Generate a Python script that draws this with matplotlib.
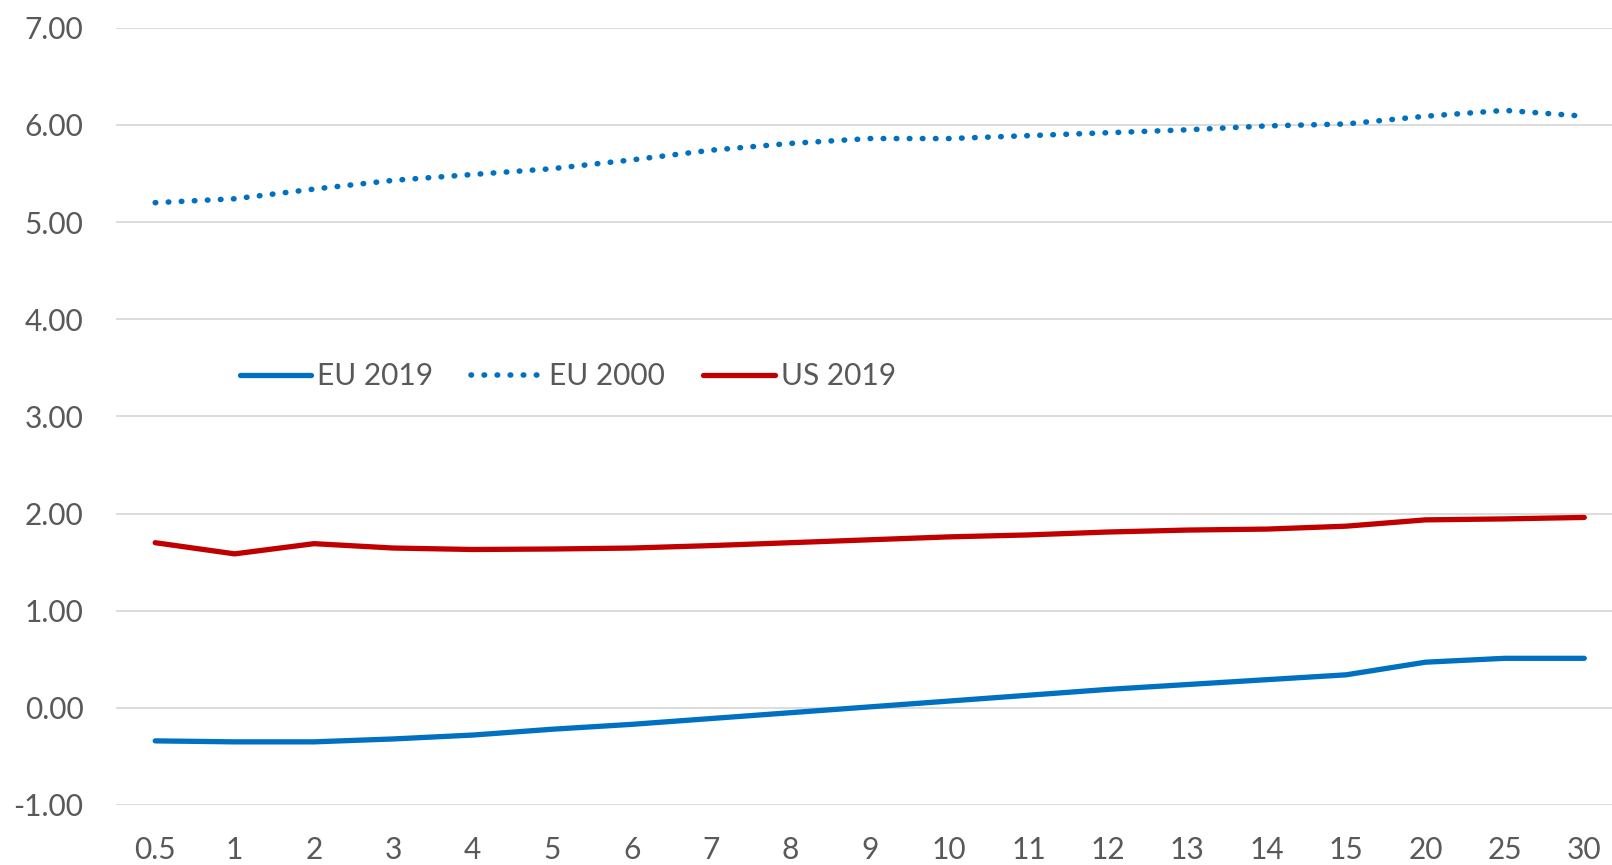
import matplotlib
matplotlib.use("Agg")
import matplotlib.pyplot as plt

maturities = ["0.5", "1", "2", "3", "4", "5", "6", "7", "8", "9", "10",
              "11", "12", "13", "14", "15", "20", "25", "30"]
eu_2019 = [-0.34, -0.35, -0.35, -0.32, -0.28, -0.22, -0.17, -0.11, -0.05, 0.01,
           0.07, 0.13, 0.19, 0.24, 0.29, 0.34, 0.47, 0.51, 0.51]
eu_2000 = [5.20, 5.24, 5.34, 5.43, 5.49, 5.55, 5.64, 5.74, 5.81, 5.86,
           5.86, 5.89, 5.92, 5.95, 5.99, 6.01, 6.09, 6.15, 6.09]
us_2019 = [1.70, 1.585, 1.69, 1.645, 1.63, 1.635, 1.645, 1.67, 1.70, 1.73,
           1.76, 1.78, 1.81, 1.83, 1.84, 1.87, 1.935, 1.945, 1.96]
y_ticks = [-1, 0, 1, 2, 3, 4, 5, 6, 7]

plt.rcParams['font.family'] = ['Lato', 'DejaVu Sans']
W, H = 1612, 865
fig = plt.figure(figsize=(W / 100, H / 100), dpi=100)
left, right = 115.5, 1624.0
top, bottom = 27.8, 805.0
ax = fig.add_axes([left / W, (H - bottom) / H, (right - left) / W, (bottom - top) / H])

x = list(range(len(maturities)))
blue = "#0070C0"
red = "#C00000"
ax.plot(x, eu_2019, color=blue, lw=3.8, solid_capstyle='round', label="EU 2019", zorder=3)
ax.plot(x, eu_2000, color=blue, lw=4.0, linestyle=(0, (0.1, 2.25)),
        dash_capstyle='round', label="EU 2000", zorder=3)
ax.plot(x, us_2019, color=red, lw=3.8, solid_capstyle='round', label="US 2019", zorder=3)

ax.set_xlim(-0.5, len(maturities) - 0.5)
ax.set_ylim(-1, 7)
ax.set_xticks(x)
ax.set_xticklabels(maturities)
ax.set_yticks(y_ticks)
ax.set_yticklabels([f"{v:.2f}" for v in y_ticks])
ax.grid(axis='y', color="#D9D9D9", lw=1.3)
ax.set_axisbelow(True)
for s in ax.spines.values():
    s.set_visible(False)
fs = 21.5
ax.tick_params(axis='both', length=0, labelsize=fs, labelcolor="#595959")
ax.tick_params(axis='y', pad=23)
ax.tick_params(axis='x', pad=22.5)

leg = ax.legend(loc='center left', bbox_to_anchor=(239.5 / W, (H - 376) / H),
                bbox_transform=fig.transFigure, ncol=3, frameon=False,
                fontsize=fs, handlelength=2.41, handletextpad=0.2,
                columnspacing=1.27, borderpad=0, borderaxespad=0)
for t in leg.get_texts():
    t.set_color("#595959")

fig.savefig("out.png", dpi=100)
